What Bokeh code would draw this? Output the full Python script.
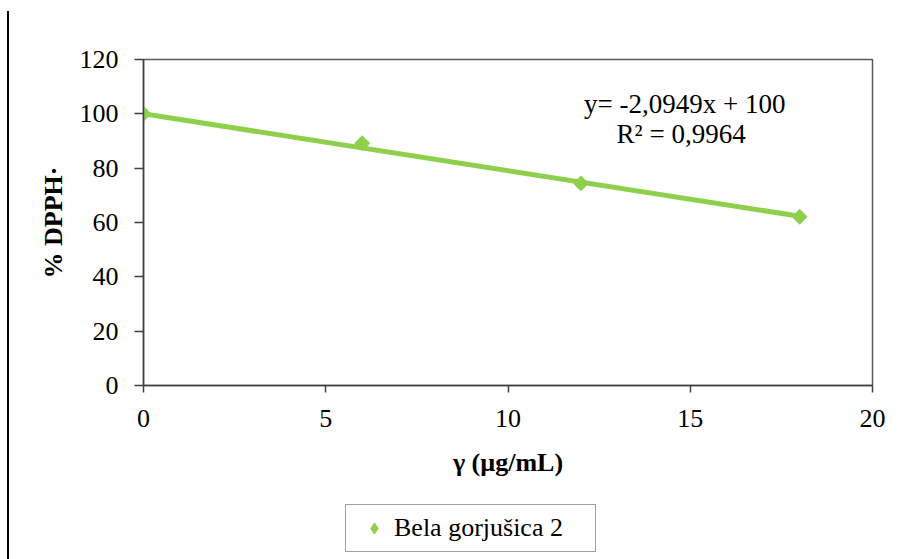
from bokeh.plotting import figure
from bokeh.layouts import column
from bokeh.models import Range1d, FixedTicker, Legend, LegendItem, Label, InlineStyleSheet
from bokeh.embed import file_html
from bokeh.resources import INLINE
import math

# data
conc = [0, 6, 12, 18]
dpph = [100, 89.2, 74.4, 62.1]
series_name = "Bela gorjušica 2"
slope = -2.0949
intercept = 100.0
r2 = 0.9964
x_ticks = [0, 5, 10, 15, 20]
y_ticks = [0, 20, 40, 60, 80, 100, 120]

GREEN = "#8ED04B"
FONT = "Liberation Serif"

p = figure(width=917, height=490, output_backend="svg", toolbar_location=None,
           x_range=Range1d(0, 20), y_range=Range1d(0, 120),
           min_border_left=143, min_border_right=45, min_border_top=59,
           min_border_bottom=105)
p.grid.visible = False
p.outline_line_color = "#595959"
p.outline_line_width = 1.5
p.background_fill_color = "white"
p.border_fill_color = "white"

for ax in (p.xaxis[0], p.yaxis[0]):
    ax.axis_line_color = "#404040"
    ax.axis_line_width = 1.5
    ax.major_tick_line_color = "#404040"
    ax.major_tick_line_width = 1.5
    ax.minor_tick_line_color = None
    ax.major_tick_in = 0
    ax.major_label_text_font = FONT
    ax.major_label_text_font_size = "26px"
    ax.major_label_text_color = "black"
    ax.axis_label_text_font = FONT
    ax.axis_label_text_font_size = "26px"
    ax.axis_label_text_font_style = "bold"
    ax.axis_label_text_color = "black"

p.xaxis.ticker = FixedTicker(ticks=x_ticks)
p.yaxis.ticker = FixedTicker(ticks=y_ticks)
p.xaxis.major_tick_out = 7
p.yaxis.major_tick_out = 9
p.xaxis.major_label_standoff = 17
p.yaxis.major_label_standoff = 16
p.xaxis.axis_label = "γ (µg/mL)"
p.yaxis.axis_label = "% DPPH·"
p.xaxis.axis_label_standoff = 18
p.yaxis.axis_label_standoff = 9

# trendline from regression parameters
tx = [conc[0], conc[-1]]
ty = [slope * v + intercept for v in tx]
p.line(tx, ty, line_color=GREEN, line_width=5)

p.scatter(conc, dpph, marker="square", size=10.5, angle=math.pi / 4,
          fill_color=GREEN, line_color=GREEN)

eq1 = "y= -2,0949x + 100"
eq2 = "R² = " + f"{r2:.4f}".replace(".", ",")
p.add_layout(Label(x=14.85, y=103.8, text=eq1, text_align="center", text_baseline="middle",
                   text_font=FONT, text_font_size="27px", text_color="black"))
p.add_layout(Label(x=14.75, y=92.5, text=eq2, text_align="center", text_baseline="middle",
                   text_font=FONT, text_font_size="27px", text_color="black"))

# legend strip below the chart (its frame is aligned with the chart frame)
pl = figure(width=917, height=69, output_backend="svg", toolbar_location=None,
            x_range=Range1d(0, 20), y_range=Range1d(1000, 1001),
            x_axis_location=None, y_axis_location=None,
            min_border=0, min_border_left=0, min_border_right=0,
            min_border_top=0, min_border_bottom=0)
pl.grid.visible = False
pl.outline_line_color = None
pl.background_fill_color = "white"
pl.border_fill_color = "white"
# same series; lies outside this strip's y-range, only its legend swatch shows
leg_r = pl.scatter(conc, dpph, marker="diamond", size=14,
                   fill_color=GREEN, line_color=GREEN)
legend = Legend(items=[LegendItem(label=series_name, renderers=[leg_r])],
                location=(202, 7), orientation="vertical",
                border_line_color="#404040", border_line_width=1.5,
                background_fill_alpha=1.0, padding=8, margin=0,
                glyph_width=40, glyph_height=28, label_height=28, label_width=193,
                label_standoff=0,
                label_text_font=FONT, label_text_font_size="26px",
                label_text_color="black", label_text_baseline="middle")
pl.add_layout(legend, "center")

layout = column(p, pl, spacing=0)
layout.stylesheets = [InlineStyleSheet(css=":host::after { content: ''; position: absolute; left: 7px; top: 11px; width: 2px; height: 548px; background: #000; z-index: 100; pointer-events: none; }")]

open("out.html", "w").write(file_html(layout, INLINE))
